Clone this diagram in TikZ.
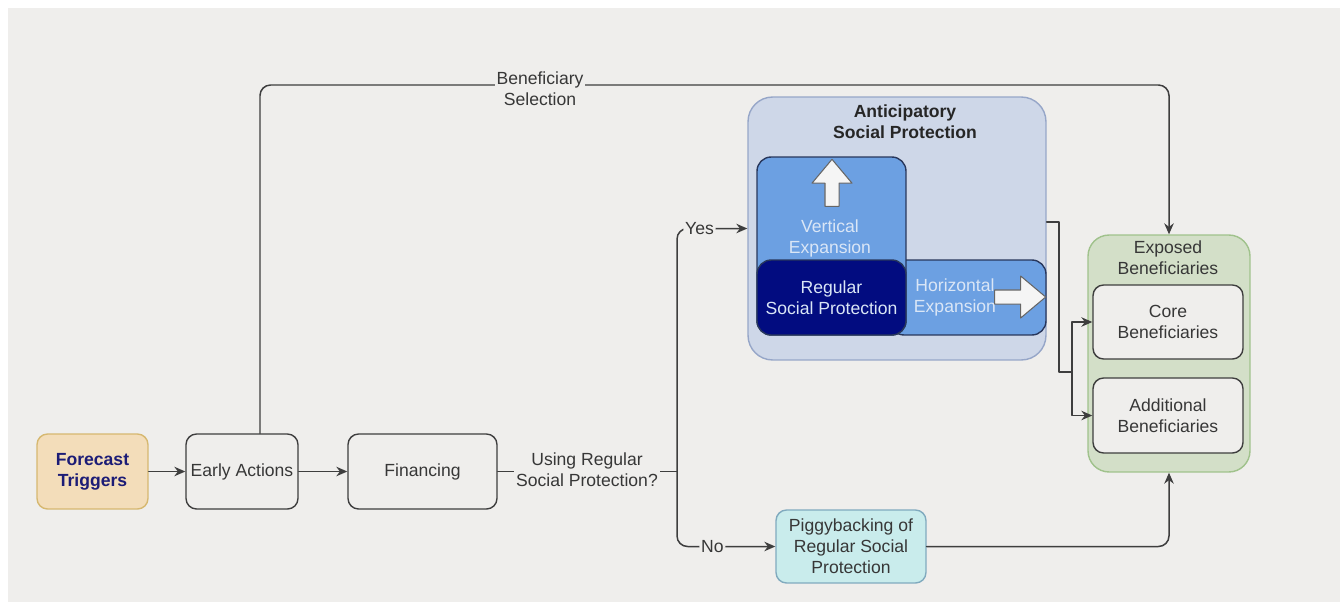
\documentclass[tikz,border=0pt]{standalone}
\usepackage{fontspec}
\setmainfont{Liberation Sans}
\usetikzlibrary{arrows.meta,shapes.arrows,calc}
\definecolor{bgGray}{RGB}{239,238,236}
\definecolor{edgeGray}{RGB}{62,62,62}
\definecolor{txtGray}{RGB}{55,55,55}
\definecolor{trigFill}{RGB}{243,221,186}
\definecolor{trigEdge}{RGB}{214,184,112}
\definecolor{trigText}{RGB}{28,28,118}
\definecolor{aspFill}{RGB}{206,215,232}
\definecolor{aspEdge}{RGB}{150,166,200}
\definecolor{expBlue}{RGB}{108,160,226}
\definecolor{expEdge}{RGB}{40,55,92}
\definecolor{rspNavy}{RGB}{2,12,128}
\definecolor{paleText}{RGB}{218,230,246}
\definecolor{expoFill}{RGB}{211,223,200}
\definecolor{expoEdge}{RGB}{160,194,140}
\definecolor{pigFill}{RGB}{201,236,236}
\definecolor{pigEdge}{RGB}{128,170,190}

\begin{document}
\begin{tikzpicture}[
    x=0.02cm,y=-0.02cm,
    line cap=round,
    line join=round,
    every node/.style={font=\fontsize{10}{12}\selectfont,text=txtGray,align=center},
    line/.style={draw=edgeGray,line width=0.85pt},
    arr/.style={line,-{Stealth[length=2.2mm,width=1.9mm]}},
    box/.style={
        draw=edgeGray,
        fill=bgGray,
        line width=0.8pt,
        rounded corners=6pt,
        minimum height=1.5cm,
        inner sep=0pt
    },
    trig/.style={box,draw=trigEdge,fill=trigFill,text=trigText,
        font=\fontsize{10}{12}\selectfont\bfseries,minimum width=2.22cm},
    aspbox/.style={draw=aspEdge,fill=aspFill,line width=0.8pt,rounded corners=14pt,
        minimum width=5.96cm,minimum height=5.26cm,inner sep=0pt},
    bluebox/.style={draw=expEdge,fill=expBlue,line width=0.8pt,rounded corners=8pt,inner sep=0pt},
    navybox/.style={bluebox,fill=rspNavy,text=paleText,minimum width=2.98cm,minimum height=1.5cm},
    expo/.style={draw=expoEdge,fill=expoFill,line width=0.8pt,rounded corners=12pt,
        minimum width=3.24cm,minimum height=4.74cm,inner sep=0pt},
    pig/.style={box,draw=pigEdge,fill=pigFill,minimum width=3cm,minimum height=1.46cm},
    title/.style={font=\fontsize{10}{12}\selectfont\bfseries,text=black!85},
    pale/.style={text=paleText},
    lab/.style={fill=bgGray,inner sep=1pt},
    bigarr/.style={single arrow,draw=gray!80!black,fill=white!96!black,line width=0.6pt,
        inner sep=0.13cm,single arrow tip angle=80}
]

% ============================================================
% background
% ============================================================

\useasboundingbox (0,0) rectangle (1340,602);
\fill[bgGray] (8,8) rectangle (1340,602);

% ============================================================
% main chain
% ============================================================

\node[trig] (ft) at (92.5,471.5) {Forecast\\Triggers};
\node[box,minimum width=2.24cm] (ea) at (242,471.5) {Early Actions};
\node[box,minimum width=2.98cm] (fin) at (422.5,471.5) {Financing};

% ============================================================
% anticipatory social protection
% ============================================================

\node[aspbox] (asp) at (897,228.5) {};
\node[title] (aspT) at (905,122) {Anticipatory\\Social Protection};

\node[bluebox,minimum width=3.12cm,minimum height=1.5cm] (hexp) at (968,297.5) {};
\node[bluebox,minimum width=2.98cm,minimum height=3.56cm] (vexp) at (831.5,246) {};
\node[navybox] (rsp) at (831.5,297.5) {Regular\\Social Protection};

\node[pale] (vexpT) at (830,238) {Vertical\\Expansion};
\node[pale] (hexpT) at (955,297) {Horizontal\\Expansion};

\node[bigarr,shape border rotate=90,minimum height=0.94cm,
    single arrow head extend=0.26cm] (upArr) at (832,187) {};
\node[bigarr,minimum height=1.02cm,
    single arrow head extend=0.28cm] (rtArr) at (1016,297) {};

% ============================================================
% exposed beneficiaries
% ============================================================

\node[expo] (exp) at (1169,353.5) {};
\node (expT) at (1168,258) {Exposed\\Beneficiaries};
\node[box,minimum width=3cm,minimum height=1.48cm] (core) at (1168,322) {Core\\Beneficiaries};
\node[box,minimum width=3cm,minimum height=1.5cm] (add) at (1168,415.5) {Additional\\Beneficiaries};

% ============================================================
% piggybacking
% ============================================================

\node[pig] (pig) at (851,546.5) {Piggybacking of\\Regular Social\\Protection};

% ============================================================
% connectors
% ============================================================

\draw[arr] (ft) -- (ea);
\draw[arr] (ea) -- (fin);

\coordinate (split) at (677,471.5);
\draw[line] (fin) -- (split);
\node[lab] (useQ) at (587,470) {Using Regular\\Social Protection?};

\draw[arr,rounded corners=6pt] (split) |- node[lab,pos=0.66] (yes) {Yes} (asp.west);
\draw[arr,rounded corners=6pt] (split) |- node[lab,pos=0.68] (no) {No} (pig.west);
\draw[arr,rounded corners=6pt] (pig.east) -| (exp.south);

\coordinate (selTop) at (1169,85);
\draw[arr,rounded corners=6pt] ([xshift=0.36cm]ea.north) |- (selTop) -- (exp.north);
\node[lab] (sel) at (540,89) {Beneficiary\\Selection};

\coordinate (mrg) at (1072,372);
\draw[line] ([yshift=0.13cm]asp.east) -| (1059,372) -- (mrg);
\draw[arr] (mrg) |- (core.west);
\draw[arr] (mrg) |- (add.west);

\end{tikzpicture}
\end{document}
